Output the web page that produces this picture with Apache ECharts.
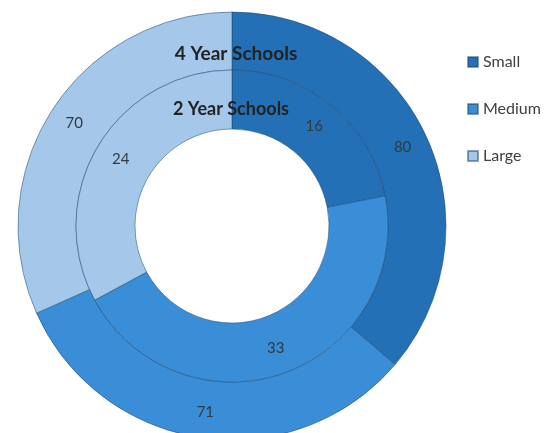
<!DOCTYPE html>
<html>
<head>
<meta charset="utf-8">
<style>
html,body{margin:0;padding:0;background:#fff;}
#chart{width:546px;height:433px;}
</style>
<script src="https://cdn.jsdelivr.net/npm/echarts@6/dist/echarts.min.js"></script>
</head>
<body>
<div id="chart"></div>
<script>
var categories = ["Small", "Medium", "Large"];
var fourYearValues = [80, 71, 70];
var twoYearValues = [16, 33, 24];
var ringNames = ["4 Year Schools", "2 Year Schools"];
var colors = ["#2470b6", "#3a8dd7", "#a5c7ea"];

function buildData(values) {
  return categories.map(function (c, i) { return { name: c, value: values[i] }; });
}

var chart = echarts.init(document.getElementById('chart'), null, { renderer: 'canvas' });
var commonLabel = {
  show: true,
  position: 'inside',
  formatter: '{c}',
  color: '#2f3a44',
  fontSize: 15,
  fontFamily: 'Lato'
};
chart.setOption({
  animation: false,
  color: colors,
  title: [
    { text: ringNames[0], left: 231, top: 39, textAlign: 'center',
      textStyle: { fontFamily: 'Lato', fontWeight: 'bold', fontSize: 19, color: '#222' } },
    { text: ringNames[1], left: 226, top: 95, textAlign: 'center',
      textStyle: { fontFamily: 'Lato', fontWeight: 'bold', fontSize: 18, color: '#222' } }
  ],
  legend: {
    orient: 'vertical',
    left: 462,
    top: 49,
    itemGap: 31,
    itemWidth: 10,
    itemHeight: 10,
    icon: 'rect',
    data: categories,
    textStyle: { fontFamily: 'Lato', fontSize: 16, color: '#404040' },
    selectedMode: false
  },
  series: [
    {
      name: ringNames[0],
      type: 'pie',
      center: [232, 226],
      radius: [156, 214],
      startAngle: 90,
      clockwise: true,
      avoidLabelOverlap: false,
      silent: true,
      label: commonLabel,
      labelLine: { show: false },
      itemStyle: { borderColor: 'rgba(30,70,110,0.5)', borderWidth: 1 },
      data: buildData(fourYearValues)
    },
    {
      name: ringNames[1],
      type: 'pie',
      center: [232, 226],
      radius: [97, 156],
      startAngle: 90,
      clockwise: true,
      avoidLabelOverlap: false,
      silent: true,
      label: commonLabel,
      labelLine: { show: false },
      itemStyle: { borderColor: 'rgba(30,70,110,0.5)', borderWidth: 1 },
      data: buildData(twoYearValues)
    }
  ]
});
</script>
</body>
</html>
